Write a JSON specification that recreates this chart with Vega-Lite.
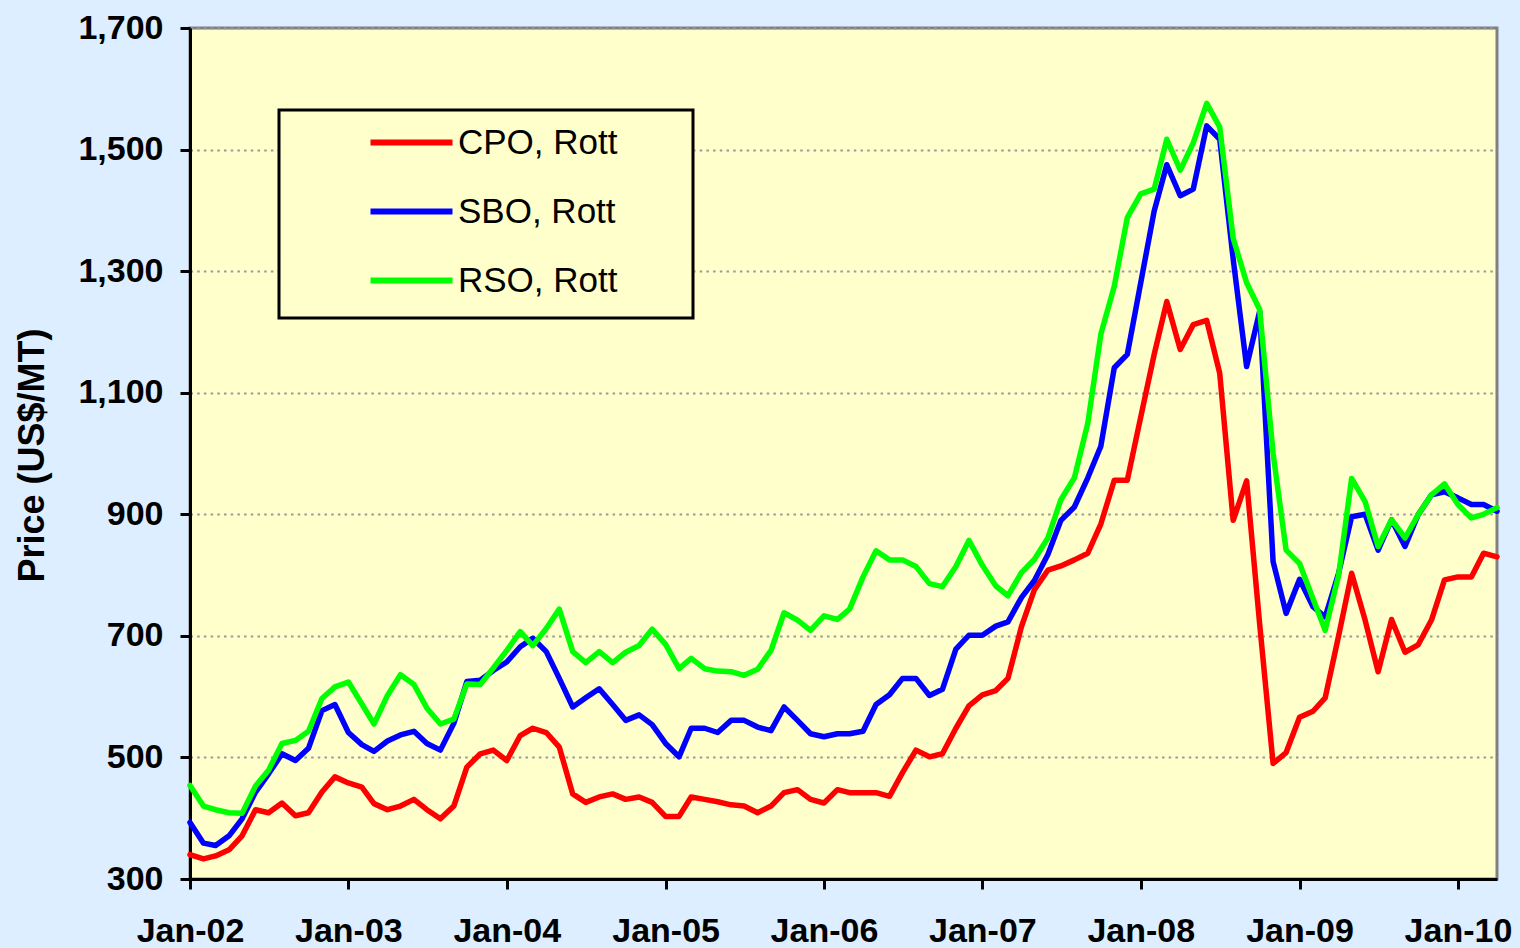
{
  "$schema": "https://vega.github.io/schema/vega-lite/v6.json",
  "width": 1307,
  "height": 851,
  "autosize": {"type": "none"},
  "padding": {"left": 190, "top": 28, "right": 23, "bottom": 69},
  "background": "#DCEEFF",
  "config": {
    "view": {"fill": "#FFFFCC", "stroke": "#808080", "strokeWidth": 3},
    "font": "Liberation Sans",
    "legend": {"strokeWidth": 3}
  },
  "data": {
    "values": [
      {"d": "2002-01-01T00:00:00", "CPO": 340, "SBO": 393, "RSO": 454},
      {"d": "2002-02-01T00:00:00", "CPO": 333, "SBO": 359, "RSO": 420},
      {"d": "2002-03-01T00:00:00", "CPO": 338, "SBO": 355, "RSO": 414},
      {"d": "2002-04-01T00:00:00", "CPO": 348, "SBO": 371, "RSO": 409},
      {"d": "2002-05-01T00:00:00", "CPO": 371, "SBO": 399, "RSO": 408},
      {"d": "2002-06-01T00:00:00", "CPO": 414, "SBO": 443, "RSO": 453},
      {"d": "2002-07-01T00:00:00", "CPO": 409, "SBO": 473, "RSO": 479},
      {"d": "2002-08-01T00:00:00", "CPO": 425, "SBO": 506, "RSO": 523},
      {"d": "2002-09-01T00:00:00", "CPO": 404, "SBO": 495, "RSO": 528},
      {"d": "2002-10-01T00:00:00", "CPO": 409, "SBO": 515, "RSO": 543},
      {"d": "2002-11-01T00:00:00", "CPO": 443, "SBO": 577, "RSO": 597},
      {"d": "2002-12-01T00:00:00", "CPO": 468, "SBO": 587, "RSO": 616},
      {"d": "2003-01-01T00:00:00", "CPO": 458, "SBO": 541, "RSO": 624},
      {"d": "2003-02-01T00:00:00", "CPO": 451, "SBO": 521, "RSO": 588},
      {"d": "2003-03-01T00:00:00", "CPO": 424, "SBO": 510, "RSO": 555},
      {"d": "2003-04-01T00:00:00", "CPO": 414, "SBO": 527, "RSO": 602},
      {"d": "2003-05-01T00:00:00", "CPO": 420, "SBO": 537, "RSO": 636},
      {"d": "2003-06-01T00:00:00", "CPO": 431, "SBO": 543, "RSO": 620},
      {"d": "2003-07-01T00:00:00", "CPO": 414, "SBO": 523, "RSO": 581},
      {"d": "2003-08-01T00:00:00", "CPO": 399, "SBO": 512, "RSO": 555},
      {"d": "2003-09-01T00:00:00", "CPO": 420, "SBO": 556, "RSO": 563},
      {"d": "2003-10-01T00:00:00", "CPO": 484, "SBO": 625, "RSO": 621},
      {"d": "2003-11-01T00:00:00", "CPO": 506, "SBO": 627, "RSO": 620},
      {"d": "2003-12-01T00:00:00", "CPO": 512, "SBO": 643, "RSO": 647},
      {"d": "2004-01-01T00:00:00", "CPO": 495, "SBO": 657, "RSO": 676},
      {"d": "2004-02-01T00:00:00", "CPO": 536, "SBO": 682, "RSO": 707},
      {"d": "2004-03-01T00:00:00", "CPO": 548, "SBO": 696, "RSO": 684},
      {"d": "2004-04-01T00:00:00", "CPO": 541, "SBO": 674, "RSO": 712},
      {"d": "2004-05-01T00:00:00", "CPO": 517, "SBO": 630, "RSO": 744},
      {"d": "2004-06-01T00:00:00", "CPO": 440, "SBO": 583, "RSO": 674},
      {"d": "2004-07-01T00:00:00", "CPO": 426, "SBO": 598, "RSO": 656},
      {"d": "2004-08-01T00:00:00", "CPO": 435, "SBO": 613, "RSO": 674},
      {"d": "2004-09-01T00:00:00", "CPO": 440, "SBO": 587, "RSO": 656},
      {"d": "2004-10-01T00:00:00", "CPO": 431, "SBO": 561, "RSO": 673},
      {"d": "2004-11-01T00:00:00", "CPO": 435, "SBO": 570, "RSO": 684},
      {"d": "2004-12-01T00:00:00", "CPO": 426, "SBO": 554, "RSO": 711},
      {"d": "2005-01-01T00:00:00", "CPO": 403, "SBO": 523, "RSO": 686},
      {"d": "2005-02-01T00:00:00", "CPO": 403, "SBO": 501, "RSO": 646},
      {"d": "2005-03-01T00:00:00", "CPO": 435, "SBO": 548, "RSO": 663},
      {"d": "2005-04-01T00:00:00", "CPO": 431, "SBO": 548, "RSO": 646},
      {"d": "2005-05-01T00:00:00", "CPO": 427, "SBO": 541, "RSO": 642},
      {"d": "2005-06-01T00:00:00", "CPO": 422, "SBO": 561, "RSO": 641},
      {"d": "2005-07-01T00:00:00", "CPO": 420, "SBO": 561, "RSO": 635},
      {"d": "2005-08-01T00:00:00", "CPO": 409, "SBO": 550, "RSO": 645},
      {"d": "2005-09-01T00:00:00", "CPO": 420, "SBO": 544, "RSO": 676},
      {"d": "2005-10-01T00:00:00", "CPO": 442, "SBO": 583, "RSO": 738},
      {"d": "2005-11-01T00:00:00", "CPO": 447, "SBO": 561, "RSO": 726},
      {"d": "2005-12-01T00:00:00", "CPO": 431, "SBO": 539, "RSO": 709},
      {"d": "2006-01-01T00:00:00", "CPO": 425, "SBO": 534, "RSO": 733},
      {"d": "2006-02-01T00:00:00", "CPO": 447, "SBO": 539, "RSO": 727},
      {"d": "2006-03-01T00:00:00", "CPO": 442, "SBO": 539, "RSO": 744},
      {"d": "2006-04-01T00:00:00", "CPO": 442, "SBO": 543, "RSO": 797},
      {"d": "2006-05-01T00:00:00", "CPO": 442, "SBO": 587, "RSO": 840},
      {"d": "2006-06-01T00:00:00", "CPO": 436, "SBO": 603, "RSO": 825},
      {"d": "2006-07-01T00:00:00", "CPO": 475, "SBO": 630, "RSO": 825},
      {"d": "2006-08-01T00:00:00", "CPO": 512, "SBO": 630, "RSO": 814},
      {"d": "2006-09-01T00:00:00", "CPO": 501, "SBO": 602, "RSO": 786},
      {"d": "2006-10-01T00:00:00", "CPO": 506, "SBO": 612, "RSO": 781},
      {"d": "2006-11-01T00:00:00", "CPO": 548, "SBO": 678, "RSO": 814},
      {"d": "2006-12-01T00:00:00", "CPO": 585, "SBO": 701, "RSO": 857},
      {"d": "2007-01-01T00:00:00", "CPO": 603, "SBO": 701, "RSO": 816},
      {"d": "2007-02-01T00:00:00", "CPO": 610, "SBO": 716, "RSO": 782},
      {"d": "2007-03-01T00:00:00", "CPO": 630, "SBO": 723, "RSO": 766},
      {"d": "2007-04-01T00:00:00", "CPO": 715, "SBO": 763, "RSO": 804},
      {"d": "2007-05-01T00:00:00", "CPO": 776, "SBO": 791, "RSO": 826},
      {"d": "2007-06-01T00:00:00", "CPO": 808, "SBO": 834, "RSO": 861},
      {"d": "2007-07-01T00:00:00", "CPO": 815, "SBO": 890, "RSO": 924},
      {"d": "2007-08-01T00:00:00", "CPO": 825, "SBO": 912, "RSO": 960},
      {"d": "2007-09-01T00:00:00", "CPO": 836, "SBO": 960, "RSO": 1050},
      {"d": "2007-10-01T00:00:00", "CPO": 884, "SBO": 1012, "RSO": 1196},
      {"d": "2007-11-01T00:00:00", "CPO": 956, "SBO": 1141, "RSO": 1275},
      {"d": "2007-12-01T00:00:00", "CPO": 956, "SBO": 1163, "RSO": 1388},
      {"d": "2008-01-01T00:00:00", "CPO": 1060, "SBO": 1281, "RSO": 1427},
      {"d": "2008-02-01T00:00:00", "CPO": 1163, "SBO": 1399, "RSO": 1435},
      {"d": "2008-03-01T00:00:00", "CPO": 1250, "SBO": 1475, "RSO": 1517},
      {"d": "2008-04-01T00:00:00", "CPO": 1171, "SBO": 1424, "RSO": 1466},
      {"d": "2008-05-01T00:00:00", "CPO": 1212, "SBO": 1435, "RSO": 1511},
      {"d": "2008-06-01T00:00:00", "CPO": 1219, "SBO": 1539, "RSO": 1576},
      {"d": "2008-07-01T00:00:00", "CPO": 1132, "SBO": 1517, "RSO": 1537},
      {"d": "2008-08-01T00:00:00", "CPO": 890, "SBO": 1320, "RSO": 1354},
      {"d": "2008-09-01T00:00:00", "CPO": 955, "SBO": 1143, "RSO": 1281},
      {"d": "2008-10-01T00:00:00", "CPO": 720, "SBO": 1234, "RSO": 1237},
      {"d": "2008-11-01T00:00:00", "CPO": 490, "SBO": 822, "RSO": 1000},
      {"d": "2008-12-01T00:00:00", "CPO": 508, "SBO": 737, "RSO": 841},
      {"d": "2009-01-01T00:00:00", "CPO": 566, "SBO": 793, "RSO": 819},
      {"d": "2009-02-01T00:00:00", "CPO": 576, "SBO": 748, "RSO": 761},
      {"d": "2009-03-01T00:00:00", "CPO": 598, "SBO": 731, "RSO": 709},
      {"d": "2009-04-01T00:00:00", "CPO": 700, "SBO": 803, "RSO": 800},
      {"d": "2009-05-01T00:00:00", "CPO": 803, "SBO": 896, "RSO": 959},
      {"d": "2009-06-01T00:00:00", "CPO": 726, "SBO": 900, "RSO": 921},
      {"d": "2009-07-01T00:00:00", "CPO": 641, "SBO": 841, "RSO": 847},
      {"d": "2009-08-01T00:00:00", "CPO": 727, "SBO": 891, "RSO": 891},
      {"d": "2009-09-01T00:00:00", "CPO": 673, "SBO": 847, "RSO": 861},
      {"d": "2009-10-01T00:00:00", "CPO": 685, "SBO": 899, "RSO": 899},
      {"d": "2009-11-01T00:00:00", "CPO": 726, "SBO": 932, "RSO": 932},
      {"d": "2009-12-01T00:00:00", "CPO": 792, "SBO": 937, "RSO": 950},
      {"d": "2010-01-01T00:00:00", "CPO": 797, "SBO": 927, "RSO": 916},
      {"d": "2010-02-01T00:00:00", "CPO": 797, "SBO": 916, "RSO": 894},
      {"d": "2010-03-01T00:00:00", "CPO": 836, "SBO": 916, "RSO": 900},
      {"d": "2010-04-01T00:00:00", "CPO": 830, "SBO": 905, "RSO": 911}
    ]
  },
  "transform": [
    {"fold": ["CPO", "SBO", "RSO"], "as": ["series", "price"]}
  ],
  "mark": {"type": "line", "strokeWidth": 5.5, "strokeJoin": "round", "strokeCap": "round"},
  "encoding": {
    "x": {
      "field": "d",
      "type": "temporal",
      "scale": {
        "domain": [
          {"year": 2002, "month": 1, "date": 1},
          {"year": 2010, "month": 4, "date": 1}
        ]
      },
      "axis": {
        "title": null,
        "format": "%b-%y",
        "values": [
          {"year": 2002, "month": 1, "date": 1},
          {"year": 2003, "month": 1, "date": 1},
          {"year": 2004, "month": 1, "date": 1},
          {"year": 2005, "month": 1, "date": 1},
          {"year": 2006, "month": 1, "date": 1},
          {"year": 2007, "month": 1, "date": 1},
          {"year": 2008, "month": 1, "date": 1},
          {"year": 2009, "month": 1, "date": 1},
          {"year": 2010, "month": 1, "date": 1}
        ],
        "grid": false,
        "domainColor": "#000000",
        "domainWidth": 3,
        "tickColor": "#000000",
        "tickWidth": 3,
        "tickSize": 10,
        "labelFont": "Liberation Sans",
        "labelFontWeight": "bold",
        "labelFontSize": 34,
        "labelColor": "#000000",
        "labelPadding": 25,
        "labelFlush": false,
        "labelOverlap": false,
        "labelBound": false
      }
    },
    "y": {
      "field": "price",
      "type": "quantitative",
      "scale": {"domain": [300, 1700], "nice": false, "zero": false},
      "axis": {
        "title": "Price (US$/MT)",
        "titleFont": "Liberation Sans",
        "titleFontWeight": "bold",
        "titleFontSize": 36,
        "titleColor": "#000000",
        "titleAngle": -90,
        "titleX": -147,
        "titleY": 427,
        "titleAlign": "center",
        "titleBaseline": "alphabetic",
        "values": [300, 500, 700, 900, 1100, 1300, 1500, 1700],
        "format": ",.0f",
        "grid": true,
        "gridColor": "#999999",
        "gridWidth": 2,
        "gridDash": [2.5, 4.2],
        "domainColor": "#000000",
        "domainWidth": 3,
        "tickColor": "#000000",
        "tickWidth": 3,
        "tickSize": 10,
        "labelFont": "Liberation Sans",
        "labelFontWeight": "bold",
        "labelFontSize": 34,
        "labelColor": "#000000",
        "labelPadding": 17,
        "labelOverlap": false,
        "labelBound": false
      }
    },
    "color": {
      "field": "series",
      "type": "nominal",
      "scale": {"domain": ["CPO", "SBO", "RSO"], "range": ["#FF0000", "#0000FF", "#00FF00"]},
      "legend": {
        "title": ["M", "M", "M", "M", "M"],
        "titleOrient": "right",
        "titleAnchor": "start",
        "titleBaseline": "top",
        "titleFontSize": 10,
        "titleLineHeight": 43,
        "titleColor": "#FFFFCC",
        "titlePadding": 54,
        "orient": "none",
        "legendX": 89,
        "legendY": 82,
        "labelExpr": "datum.label + ', Rott'",
        "labelLimit": 500,
        "symbolType": "M-2.5,0H2.5",
        "symbolSize": 1076,
        "symbolStrokeWidth": 6,
        "labelFont": "Liberation Sans",
        "labelFontSize": 35,
        "labelColor": "#000000",
        "labelOffset": 27,
        "symbolOffset": 100,
        "padding": 13,
        "rowPadding": 31,
        "strokeColor": "#000000",
        "fillColor": "#FFFFCC",
        "cornerRadius": 0
      }
    }
  }
}
